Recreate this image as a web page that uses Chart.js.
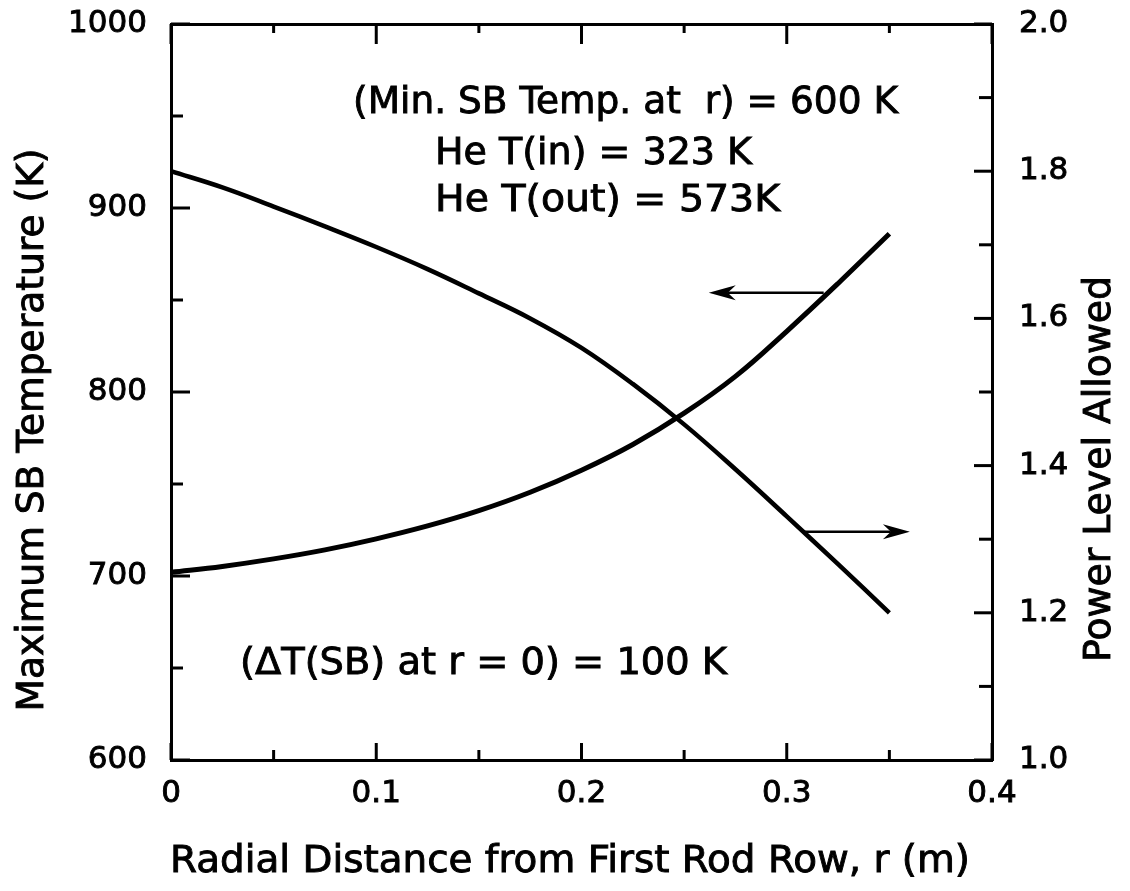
<!DOCTYPE html>
<html>
<head>
<meta charset="utf-8">
<script src="https://cdn.jsdelivr.net/npm/chart.js@4.4.1/dist/chart.umd.min.js"></script>
<style>
html,body{margin:0;padding:0;background:#fff;}
#wrap{width:1130px;height:891px;}
</style>
</head>
<body>
<div id="wrap"><canvas id="c" width="1130" height="891"></canvas></div>
<script>
// ---- data ----
const rValues = [0, 0.025, 0.05, 0.075, 0.1, 0.125, 0.15, 0.175, 0.2, 0.225, 0.25, 0.275, 0.3, 0.325, 0.35];
const maxSBTemperature = [702, 705.2, 709.3, 714.2, 720.2, 727.2, 735.5, 745.5, 757.5, 771.5, 788.5, 808.5, 833, 859, 886];
const powerLevelAllowed = [1.800, 1.778, 1.752, 1.725, 1.697, 1.667, 1.634, 1.600, 1.560, 1.511, 1.456, 1.395, 1.331, 1.266, 1.200];

const xMajorTicks = [0, 0.1, 0.2, 0.3, 0.4];
const xMinorTicks = [0.05, 0.15, 0.25, 0.35];
const xTickLabels = ['0', '0.1', '0.2', '0.3', '0.4'];
const tempMajorTicks = [600, 700, 800, 900, 1000];
const tempMinorTicks = [650, 750, 850, 950];
const tempTickLabels = ['600', '700', '800', '900', '1000'];
const powerMajorTicks = [1.0, 1.2, 1.4, 1.6, 1.8, 2.0];
const powerMinorTicks = [1.1, 1.3, 1.5, 1.7, 1.9];
const powerTickLabels = ['1.0', '1.2', '1.4', '1.6', '1.8', '2.0'];

const xTitle = 'Radial Distance from First Rod Row, r (m)';
const tempTitle = 'Maximum SB Temperature (K)';
const powerTitle = 'Power Level Allowed';
const noteLines = ['(Min. SB Temp. at  r) = 600 K', 'He T(in) = 323 K', 'He T(out) = 573K', '(\u0394T(SB) at r = 0) = 100 K'];

// ---- styling ----
const FONT = 'DejaVu Sans';
const INK = '#000';

function fitText(ctx, text, width) {
  const m = ctx.measureText(text).width;
  return m > 0 ? width / m : 1;
}

function boldText(ctx, text) {
  ctx.fillText(text, 0, 0);
  ctx.strokeText(text, 0, 0);
}

const inwardTicks = {
  id: 'inwardTicks',
  afterDraw(chart) {
    const {ctx, chartArea: a, scales} = chart;
    ctx.save();
    ctx.strokeStyle = INK;
    ctx.lineWidth = 3;
    const seg = (x1, y1, x2, y2) => { ctx.beginPath(); ctx.moveTo(x1, y1); ctx.lineTo(x2, y2); ctx.stroke(); };
    xMajorTicks.forEach(v => { const p = scales.x.getPixelForValue(v); seg(p, a.bottom, p, a.bottom - 17); seg(p, a.top, p, a.top + 20); });
    xMinorTicks.forEach(v => { const p = scales.x.getPixelForValue(v); seg(p, a.bottom, p, a.bottom - 10); seg(p, a.top, p, a.top + 9); });
    tempMajorTicks.forEach(v => { const p = scales.yT.getPixelForValue(v); seg(a.left, p, a.left + 19, p); });
    tempMinorTicks.forEach(v => { const p = scales.yT.getPixelForValue(v); seg(a.left, p, a.left + 12, p); });
    powerMajorTicks.forEach(v => { const p = scales.yP.getPixelForValue(v); seg(a.right, p, a.right - 18, p); });
    powerMinorTicks.forEach(v => { const p = scales.yP.getPixelForValue(v); seg(a.right, p, a.right - 13, p); });
    ctx.restore();
  }
};

function arrow(ctx, x1, y1, x2, y2) {
  const ang = Math.atan2(y2 - y1, x2 - x1);
  const L = 27, W = 7.5, notch = 19;
  ctx.beginPath(); ctx.moveTo(x1, y1); ctx.lineTo(x2 - Math.cos(ang) * notch, y2 - Math.sin(ang) * notch); ctx.stroke();
  ctx.save();
  ctx.translate(x2, y2); ctx.rotate(ang);
  ctx.beginPath();
  ctx.moveTo(0, 0);
  ctx.lineTo(-L, -W);
  ctx.lineTo(-notch, 0);
  ctx.lineTo(-L, W);
  ctx.closePath();
  ctx.fill();
  ctx.restore();
}

const annotations = {
  id: 'annotations',
  afterDraw(chart) {
    const {ctx, scales} = chart;
    ctx.save();
    ctx.fillStyle = INK;
    ctx.strokeStyle = INK;
    ctx.lineWidth = 0.9;
    // notes
    ctx.font = '38px "' + FONT + '"';
    ctx.textAlign = 'left';
    ctx.textBaseline = 'alphabetic';
    const pos = [[353, 113, 545], [435, 164, 317], [435, 211, 345], [240, 674, 487]];
    noteLines.forEach((t, i) => {
      const [x, y, w] = pos[i];
      const sx = fitText(ctx, t, w);
      ctx.save(); ctx.translate(x, y); ctx.scale(sx, 1); boldText(ctx, t); ctx.restore();
    });
    // axis titles
    ctx.font = '37px "' + FONT + '"';
    let sx = fitText(ctx, xTitle, 800);
    ctx.save(); ctx.translate(170, 872); ctx.scale(sx, 1); boldText(ctx, xTitle); ctx.restore();
    ctx.textAlign = 'center';
    sx = fitText(ctx, tempTitle, 563);
    ctx.save(); ctx.translate(43, 430); ctx.rotate(-Math.PI / 2); ctx.scale(sx, 1); boldText(ctx, tempTitle); ctx.restore();
    sx = fitText(ctx, powerTitle, 386);
    ctx.save(); ctx.translate(1110, 469); ctx.rotate(-Math.PI / 2); ctx.scale(sx, 1); boldText(ctx, powerTitle); ctx.restore();
    // arrows indicating the axis of each curve
    ctx.lineWidth = 2.5;
    const yT = scales.yT.getPixelForValue(854);
    arrow(ctx, scales.x.getPixelForValue(0.318), yT, scales.x.getPixelForValue(0.262), yT);
    const yP = scales.yP.getPixelForValue(1.31);
    arrow(ctx, scales.x.getPixelForValue(0.308), yP, scales.x.getPixelForValue(0.360), yP);
    ctx.restore();
  }
};

const tickFont = {family: FONT, size: 31};
const noGrid = {drawOnChartArea: false, drawTicks: false};
const frame = {display: true, color: INK, width: 3};
const tickText = {textStrokeColor: INK, textStrokeWidth: 0.9};
function noOverflow(s) { s.paddingTop = 0; s.paddingBottom = 0; s.paddingLeft = 0; s.paddingRight = 0; }

new Chart(document.getElementById('c').getContext('2d'), {
  type: 'line',
  data: {
    datasets: [
      {
        label: tempTitle,
        data: rValues.map((r, i) => ({x: r, y: maxSBTemperature[i]})),
        xAxisID: 'x', yAxisID: 'yT',
        borderColor: INK, borderWidth: 5, pointRadius: 0,
        tension: 0.4, fill: false
      },
      {
        label: powerTitle,
        data: rValues.map((r, i) => ({x: r, y: powerLevelAllowed[i]})),
        xAxisID: 'x', yAxisID: 'yP',
        borderColor: INK, borderWidth: 4.5, pointRadius: 0,
        tension: 0.4, fill: false
      }
    ]
  },
  options: {
    responsive: false,
    animation: false,
    devicePixelRatio: 1,
    layout: {padding: {top: 24, left: 0, right: 0, bottom: 0}},
    plugins: {legend: {display: false}, tooltip: {enabled: false}},
    scales: {
      x: {
        type: 'linear', position: 'bottom', min: 0, max: 0.4,
        afterBuildTicks: s => { s.ticks = xMajorTicks.map(v => ({value: v})); },
        ticks: Object.assign({callback: (v, i) => xTickLabels[i], font: tickFont, color: INK, padding: 15, maxRotation: 0, autoSkip: false}, tickText),
        grid: noGrid, border: frame,
        afterFit: s => { s.height = 131; noOverflow(s); }
      },
      xTop: {
        type: 'linear', position: 'top', min: 0, max: 0.4,
        ticks: {display: false}, grid: noGrid, border: frame,
        afterFit: s => { s.height = 0; noOverflow(s); }
      },
      yT: {
        type: 'linear', position: 'left', min: 600, max: 1000,
        afterBuildTicks: s => { s.ticks = tempMajorTicks.map(v => ({value: v})); },
        ticks: Object.assign({callback: (v, i) => tempTickLabels[i], font: tickFont, color: INK, padding: 24, autoSkip: false}, tickText),
        grid: noGrid, border: frame,
        afterFit: s => { s.width = 171; noOverflow(s); }
      },
      yP: {
        type: 'linear', position: 'right', min: 1, max: 2,
        afterBuildTicks: s => { s.ticks = powerMajorTicks.map(v => ({value: v})); },
        ticks: Object.assign({callback: (v, i) => powerTickLabels[i], font: tickFont, color: INK, padding: 27, autoSkip: false}, tickText),
        grid: noGrid, border: frame,
        afterFit: s => { s.width = 138; noOverflow(s); }
      }
    }
  },
  plugins: [inwardTicks, annotations]
});
</script>
</body>
</html>
